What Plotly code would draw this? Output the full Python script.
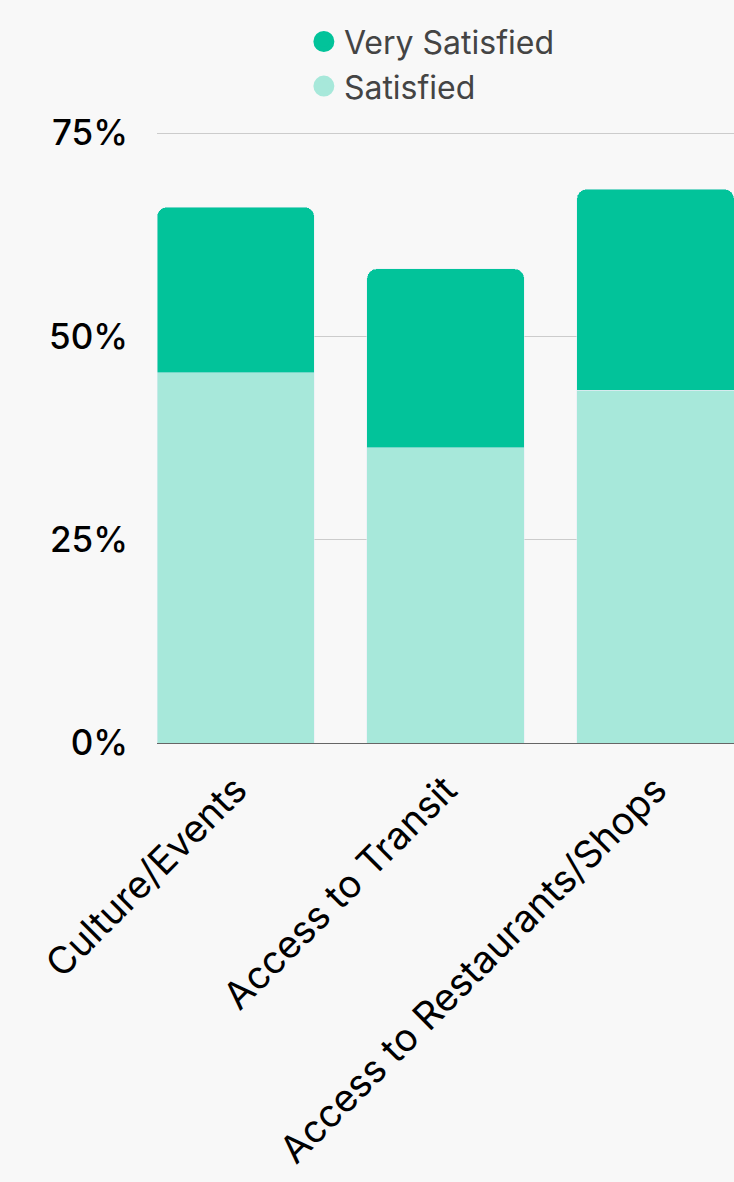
import plotly.graph_objects as go

categories = ["Culture/Events", "Access to Transit", "Access to Restaurants/Shops"]
satisfied = [45.5, 36.3, 43.4]
very_satisfied = [20.4, 22.0, 24.7]
series_names = ["Very Satisfied", "Satisfied"]
y_ticks = [0, 25, 50, 75]
y_tick_labels = ["0%", "25%", "50%", "75%"]

C_VERY = "#02c39a"
C_SAT = "#a7e8da"
FONT = "Inter, Roboto, sans-serif"

fig = go.Figure()
fig.add_trace(go.Bar(x=categories, y=satisfied, name=series_names[1],
                     marker_color=C_SAT, showlegend=False))
fig.add_trace(go.Bar(x=categories, y=very_satisfied, name=series_names[0],
                     marker_color=C_VERY, showlegend=False))
# legend proxies with circular markers (no visible points)
fig.add_trace(go.Scatter(x=[categories[0]], y=[None], mode="markers", name=series_names[0],
                         marker=dict(symbol="circle", size=16, color=C_VERY,
                                     line=dict(color=C_VERY, width=5))))
fig.add_trace(go.Scatter(x=[categories[0]], y=[None], mode="markers", name=series_names[1],
                         marker=dict(symbol="circle", size=16, color=C_SAT,
                                     line=dict(color=C_SAT, width=5))))

fig.update_layout(
    width=734, height=1182,
    barmode="stack", bargap=0.25, barcornerradius=10,
    paper_bgcolor="#f8f8f8", plot_bgcolor="#f8f8f8",
    margin=dict(l=157, r=0, t=131, b=439, autoexpand=False),
    font=dict(family=FONT, color="#000000"),
    legend=dict(orientation="v", x=0.414, xref="container", xanchor="left",
                y=0.988, yref="container", yanchor="top",
                font=dict(size=32, color="#444444", family=FONT),
                traceorder="normal", bgcolor="rgba(0,0,0,0)"),
    xaxis=dict(type="category", range=[-0.375, 2.374], tickangle=-45, showgrid=False,
               tickfont=dict(size=38, color="#000000", family=FONT),
               ticks="", ticklabelstandoff=16, showline=False, automargin=False),
    yaxis=dict(range=[0, 75.25], tickvals=y_ticks, ticktext=y_tick_labels,
               showgrid=True, gridcolor="#cccccc", gridwidth=1,
               zeroline=True, zerolinecolor="#666666", zerolinewidth=1,
               tickfont=dict(size=35, color="#000000", family=FONT, weight=500),
               ticklabelstandoff=28, showline=False, automargin=False),
)

fig.write_html("out.html", config={"displayModeBar": False},
               post_script="document.body.style.margin='0';document.body.style.overflow='hidden';")
